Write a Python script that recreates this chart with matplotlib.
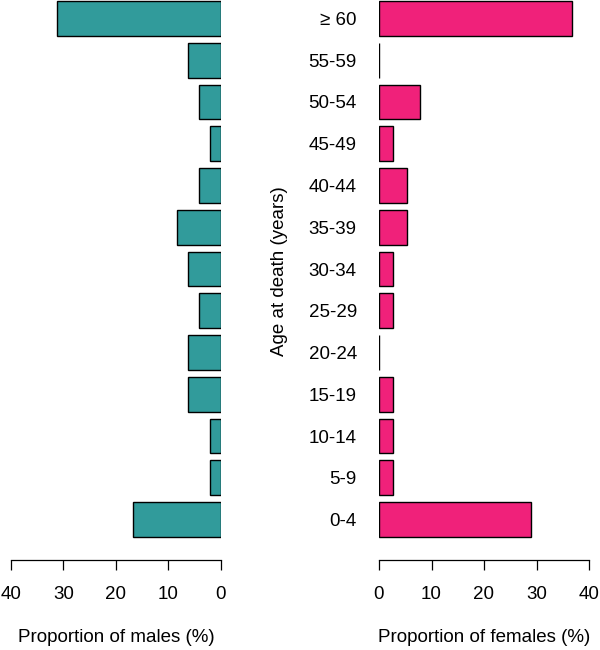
import numpy as np
import matplotlib.pyplot as plt

plt.rcParams['font.family'] = ['Liberation Sans', 'DejaVu Sans']

ages = ['0-4', '5-9', '10-14', '15-19', '20-24', '25-29', '30-34',
        '35-39', '40-44', '45-49', '50-54', '55-59', '\u2265 60']
males = [16.7, 2.1, 2.1, 6.3, 6.3, 4.2, 6.3, 8.3, 4.2, 2.1, 4.2, 6.3, 31.2]
females = [28.9, 2.6, 2.6, 2.6, 0.0, 2.6, 2.6, 5.3, 5.3, 2.6, 7.9, 0.0, 36.8]

teal = '#319B9B'
pink = '#F0217A'
fs = 13.5

W, H = 600, 650
fig = plt.figure(figsize=(6, 6.5), dpi=100)

pos = np.arange(len(ages)) * 1.2

ax1 = fig.add_axes([11 / W, 1 - 560 / H, 210 / W, 560 / H])
ax2 = fig.add_axes([379 / W, 1 - 560 / H, 210 / W, 560 / H])

ax1.barh(pos, males, height=1, color=teal, edgecolor='black', linewidth=1)
ax2.barh(pos, females, height=1, color=pink, edgecolor='black', linewidth=1)

ax1.set_xlim(40, 0)
ax2.set_xlim(0, 40)
for ax in (ax1, ax2):
    ax.set_ylim(-1.161, 14.93)
    ax.set_xticks([0, 10, 20, 30, 40])
    for s in ('top', 'right', 'left'):
        ax.spines[s].set_visible(False)
    ax.spines['bottom'].set_linewidth(0.9)
    ax.tick_params(axis='x', length=7, width=0.9, pad=12, labelsize=fs)

ax1.set_yticks([])
ax2.set_yticks(pos, ages)
ax2.tick_params(axis='y', length=0, pad=16, labelsize=fs)

fig.text(279 / W, 1 - 271 / H, 'Age at death (years)', rotation=90,
         ha='center', va='center', fontsize=fs)
fig.text(116 / W, 1 - 638 / H, 'Proportion of males (%)',
         ha='center', va='center', fontsize=fs)
fig.text(484 / W, 1 - 638 / H, 'Proportion of females (%)',
         ha='center', va='center', fontsize=fs)

fig.savefig('out.png', dpi=100)
